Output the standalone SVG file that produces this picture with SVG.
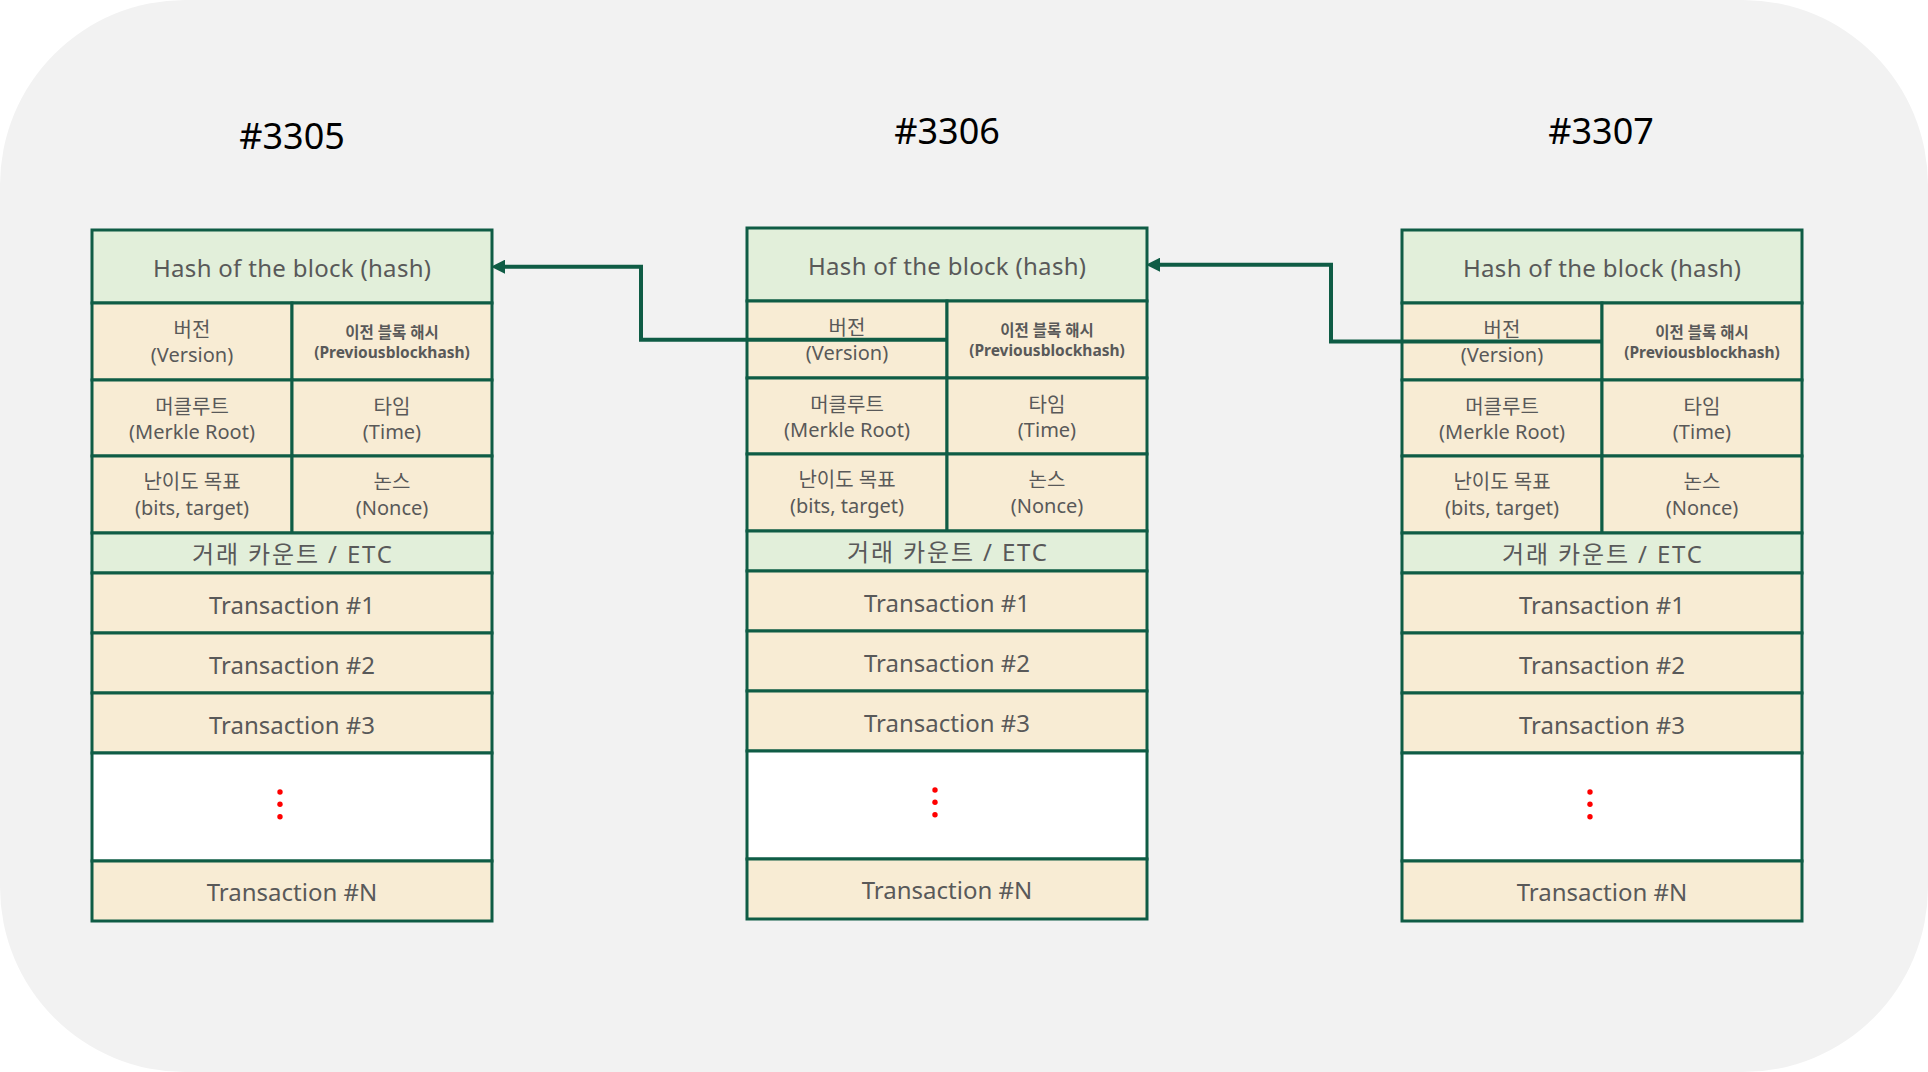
<svg xmlns="http://www.w3.org/2000/svg" width="1928" height="1072" viewBox="0 0 1928 1072">
<defs>
<style>
.g,.c,.w{stroke:#0F5C45;stroke-width:3}
.g{fill:#E2EFDA}
.c{fill:#F8ECD4}
.w{fill:#FFFFFF}
text{font-family:"Noto Sans","Noto Sans CJK KR",sans-serif;fill:#595959;text-anchor:middle}
.t24{font-size:24px}
.t20{font-size:20px}
.tb{font-size:15.5px;font-weight:bold}
.ttl{font-size:36px;fill:#000000}
.dot{fill:#FF0000;stroke:none}
.conn{fill:none;stroke:#0F5C45;stroke-width:4}
</style>
<marker id="ah" markerUnits="userSpaceOnUse" markerWidth="14" markerHeight="14" refX="0" refY="6" orient="auto" viewBox="0 0 12 12">
<path d="M0,0 L12,6 L0,12 z" fill="#0F5C45"/>
</marker>
<g id="blk">
<rect class="g" x="0" y="0" width="400" height="73"/>
<rect class="c" x="0" y="73" width="200" height="77"/>
<rect class="c" x="200" y="73" width="200" height="77"/>
<rect class="c" x="0" y="150" width="200" height="76"/>
<rect class="c" x="200" y="150" width="200" height="76"/>
<rect class="c" x="0" y="226" width="200" height="77"/>
<rect class="c" x="200" y="226" width="200" height="77"/>
<rect class="g" x="0" y="303" width="400" height="40"/>
<rect class="c" x="0" y="343" width="400" height="60"/>
<rect class="c" x="0" y="403" width="400" height="60"/>
<rect class="c" x="0" y="463" width="400" height="60"/>
<rect class="w" x="0" y="523" width="400" height="108"/>
<rect class="c" x="0" y="631" width="400" height="60"/>
<text class="t24" x="200" y="46.7" textLength="278" lengthAdjust="spacing">Hash of the block (hash)</text>
<text class="t20" x="100" y="106.5">버전</text>
<text class="t20" x="100" y="131.7">(Version)</text>
<text class="tb" x="300" y="108">이전 블록 해시</text>
<text class="tb" x="300" y="128.3">(Previousblockhash)</text>
<text class="t20" x="100" y="184">머클루트</text>
<text class="t20" x="100" y="209">(Merkle Root)</text>
<text class="t20" x="300" y="184">타임</text>
<text class="t20" x="300" y="209">(Time)</text>
<text class="t20" x="100" y="259">난이도 목표</text>
<text class="t20" x="100" y="285">(bits, target)</text>
<text class="t20" x="300" y="259">논스</text>
<text class="t20" x="300" y="285">(Nonce)</text>
<text class="t24" x="200" y="332.7" textLength="200" lengthAdjust="spacing">거래 카운트 / ETC</text>
<text class="t24" x="200" y="384">Transaction #1</text>
<text class="t24" x="200" y="443.5">Transaction #2</text>
<text class="t24" x="200" y="503.5">Transaction #3</text>
<circle class="dot" cx="188" cy="562" r="2.7"/>
<circle class="dot" cx="188" cy="574.3" r="2.7"/>
<circle class="dot" cx="188" cy="586.7" r="2.7"/>
<text class="t24" x="200" y="671">Transaction #N</text>
</g>
</defs>
<rect x="0" y="0" width="1928" height="1072" fill="#FFFFFF"/>
<rect x="0" y="0" width="1928" height="1072" rx="185" ry="185" fill="#F2F2F2"/>
<g id="block-3305">
<text class="ttl" x="292" y="149">#3305</text>
<use href="#blk" transform="translate(92,230)"/>
</g>
<g id="block-3306">
<text class="ttl" x="947" y="144">#3306</text>
<use href="#blk" transform="translate(747,228)"/>
</g>
<g id="block-3307">
<text class="ttl" x="1601" y="143.5">#3307</text>
<use href="#blk" transform="translate(1402,230)"/>
</g>
<g id="connectors">
<path class="conn" d="M947,339.7 H641 V266.7 H505" marker-end="url(#ah)"/>
<path class="conn" d="M1602,341.5 H1331 V264.7 H1160" marker-end="url(#ah)"/>
</g>
</svg>
